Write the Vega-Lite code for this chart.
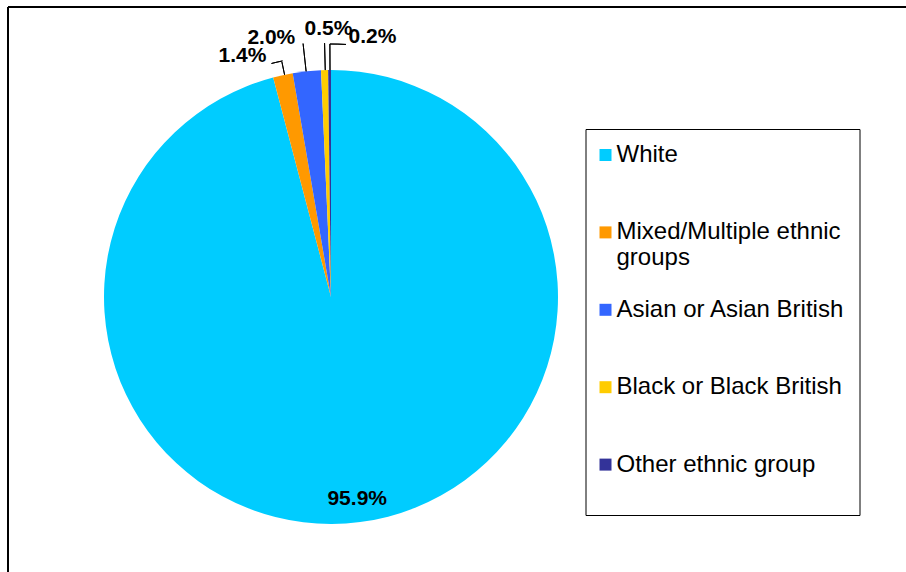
{
  "$schema": "https://vega.github.io/schema/vega-lite/v6.json",
  "width": 898,
  "height": 565,
  "autosize": {"type": "none"},
  "padding": {"left": 8, "top": 7, "right": 0, "bottom": 0},
  "background": "#ffffff",
  "view": {"stroke": "#000000", "strokeWidth": 2, "strokeDash": [898, 1463, 565, 0]},
  "config": {
    "font": "Liberation Sans"
  },
  "data": {"values": [
    {"group": "White", "share": 0.959, "idx": 1},
    {"group": "Mixed/Multiple ethnic groups", "share": 0.014, "idx": 2},
    {"group": "Asian or Asian British", "share": 0.020, "idx": 3},
    {"group": "Black or Black British", "share": 0.005, "idx": 4},
    {"group": "Other ethnic group", "share": 0.002, "idx": 5}
  ]},
  "layer": [
    {
      "mark": {"type": "arc", "x": 323, "y": 290, "outerRadius": 227},
      "encoding": {
        "theta": {"field": "share", "type": "quantitative", "stack": true},
        "order": {"field": "idx", "type": "quantitative"},
        "color": {
          "field": "group", "type": "nominal",
          "scale": {
            "domain": ["White", "Mixed/Multiple ethnic groups", "Asian or Asian British", "Black or Black British", "Other ethnic group"],
            "range": ["#00CCFF", "#FF9900", "#3366FF", "#FFCC00", "#333399"]
          },
          "legend": {
            "title": " ", "titleOrient": "bottom", "titleFontSize": 12, "titlePadding": 13,
            "orient": "none", "legendX": 577.5, "legendY": 122,
            "padding": 14, "strokeColor": "#000000", "fillColor": "#ffffff",
            "symbolType": "square", "symbolSize": 144, "symbolStrokeWidth": 0, "symbolOffset": -6,
            "labelFontSize": 24, "labelFont": "Liberation Sans", "labelColor": "#000000",
            "labelOffset": -1, "labelLimit": 400, "rowPadding": 27.4, "gridAlign": "all",
            "labelExpr": "datum.label == 'Mixed/Multiple ethnic groups' ? ['Mixed/Multiple ethnic', 'groups'] : datum.label"
          }
        }
      }
    },
    {
      "transform": [{"filter": "datum.group === 'Mixed/Multiple ethnic groups'"}],
      "mark": {"type": "arc", "x": 323, "y": 290, "theta": 6.07725, "theta2": 6.07725, "radius": 240, "radius2": 227, "fill": "transparent", "stroke": "#000000", "strokeWidth": 1},
      "encoding": {}
    },
    {
      "transform": [{"filter": "datum.group === 'Mixed/Multiple ethnic groups'"}],
      "mark": {"type": "arc", "x": 323, "y": 290, "theta": 6.0336, "theta2": 6.0807, "radius": 241, "radius2": 241, "fill": "transparent", "stroke": "#000000", "strokeWidth": 1},
      "encoding": {}
    },
    {
      "transform": [{"filter": "datum.group === 'Asian or Asian British'"}],
      "mark": {"type": "arc", "x": 323, "y": 290, "theta": 6.17341, "theta2": 6.17341, "radius": 255, "radius2": 227, "fill": "transparent", "stroke": "#000000", "strokeWidth": 1},
      "encoding": {}
    },
    {
      "transform": [{"filter": "datum.group === 'Black or Black British'"}],
      "mark": {"type": "arc", "x": 323, "y": 290, "theta": 6.25787, "theta2": 6.25787, "radius": 254, "radius2": 227, "fill": "transparent", "stroke": "#000000", "strokeWidth": 1},
      "encoding": {}
    },
    {
      "transform": [{"filter": "datum.group === 'Other ethnic group'"}],
      "mark": {"type": "arc", "x": 323, "y": 290, "theta": 6.27882, "theta2": 6.27882, "radius": 253, "radius2": 227, "fill": "transparent", "stroke": "#000000", "strokeWidth": 1},
      "encoding": {}
    },
    {
      "transform": [{"filter": "datum.group === 'Other ethnic group'"}],
      "mark": {"type": "arc", "x": 323, "y": 290, "theta": 6.27882, "theta2": 6.34253, "radius": 253, "radius2": 253, "fill": "transparent", "stroke": "#000000", "strokeWidth": 1},
      "encoding": {}
    },
    {
      "mark": {"type": "text", "x": 323, "y": 290, "radius": 204, "fontSize": 21, "fontWeight": "bold", "font": "Liberation Sans", "color": "#000000"},
      "encoding": {
        "theta": {"field": "share", "type": "quantitative", "stack": true},
        "order": {"field": "idx", "type": "quantitative"},
        "detail": {"field": "group"},
        "text": {"condition": {"test": "datum.group === 'White'", "field": "share", "type": "quantitative", "format": ".1%"}, "value": ""}
      }
    },
    {
      "mark": {"type": "text", "x": 323, "y": 290, "radius": 250, "dx": -35.6, "dy": 3.8, "fontSize": 21, "fontWeight": "bold", "font": "Liberation Sans", "color": "#000000"},
      "encoding": {
        "theta": {"field": "share", "type": "quantitative", "stack": true},
        "order": {"field": "idx", "type": "quantitative"},
        "detail": {"field": "group"},
        "text": {"condition": {"test": "datum.group === 'Mixed/Multiple ethnic groups'", "field": "share", "type": "quantitative", "format": ".1%"}, "value": ""}
      }
    },
    {
      "mark": {"type": "text", "x": 323, "y": 290, "radius": 250, "dx": -33, "dy": -10.4, "fontSize": 21, "fontWeight": "bold", "font": "Liberation Sans", "color": "#000000"},
      "encoding": {
        "theta": {"field": "share", "type": "quantitative", "stack": true},
        "order": {"field": "idx", "type": "quantitative"},
        "detail": {"field": "group"},
        "text": {"condition": {"test": "datum.group === 'Asian or Asian British'", "field": "share", "type": "quantitative", "format": ".1%"}, "value": ""}
      }
    },
    {
      "mark": {"type": "text", "x": 323, "y": 290, "radius": 250, "dx": 4.6, "dy": -18.1, "fontSize": 21, "fontWeight": "bold", "font": "Liberation Sans", "color": "#000000"},
      "encoding": {
        "theta": {"field": "share", "type": "quantitative", "stack": true},
        "order": {"field": "idx", "type": "quantitative"},
        "detail": {"field": "group"},
        "text": {"condition": {"test": "datum.group === 'Black or Black British'", "field": "share", "type": "quantitative", "format": ".1%"}, "value": ""}
      }
    },
    {
      "mark": {"type": "text", "x": 323, "y": 290, "radius": 250, "dx": 43.1, "dy": -10, "fontSize": 21, "fontWeight": "bold", "font": "Liberation Sans", "color": "#000000"},
      "encoding": {
        "theta": {"field": "share", "type": "quantitative", "stack": true},
        "order": {"field": "idx", "type": "quantitative"},
        "detail": {"field": "group"},
        "text": {"condition": {"test": "datum.group === 'Other ethnic group'", "field": "share", "type": "quantitative", "format": ".1%"}, "value": ""}
      }
    }
  ]
}
